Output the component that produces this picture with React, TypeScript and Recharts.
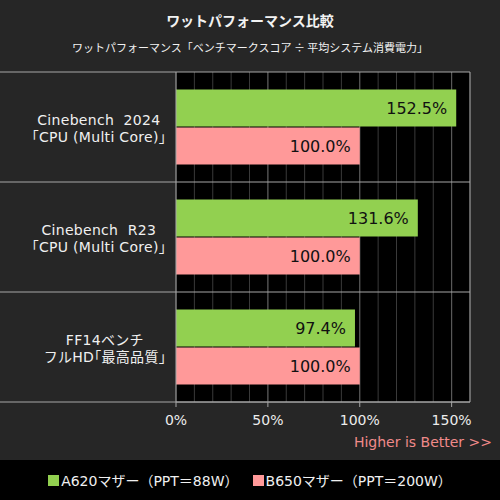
import { BarChart, Bar, XAxis, YAxis, CartesianGrid, ReferenceLine, LabelList } from 'recharts';

// 3 benchmarks, 2 lines of label each
const categoryTop = ['Cinebench\u00a0\u00a02024', 'Cinebench\u00a0\u00a0R23', 'FF14ベンチ'];
const categoryBottom = ['｢CPU (Multi Core)｣', '｢CPU (Multi Core)｣', 'フルHD｢最高品質｣'];
const a620Values = [152.5, 131.6, 97.4];
const b650Values = [100.0, 100.0, 100.0];
const xTicks = [0, 10, 20, 30, 40, 50, 60, 70, 80, 90, 100, 110, 120, 130, 140, 150];
const majorTicks = [0, 50, 100, 150];
const X_MAX = 160;

const seriesNames = ['A620マザー（PPT＝88W）', 'B650マザー（PPT＝200W）'];
const GREEN = '#92d050';
const PINK = '#ff9999';
const BORDER = '#a6a6a6';
const FONT = '"DejaVu Sans", "Noto Sans CJK JP", sans-serif';
const JP_FONT = '"Noto Sans CJK JP", sans-serif';

const data = categoryTop.map((c, i) => ({
  name: c,
  sub: categoryBottom[i],
  a620: a620Values[i],
  b650: b650Values[i],
}));

const PLOT_LEFT = 176;
const PLOT_RIGHT = 470;
const PLOT_TOP = 72;
const PLOT_BOTTOM = 402;
const BAND = (PLOT_BOTTOM - PLOT_TOP) / data.length;

function CategoryTick(props: any) {
  const { y, index, payload } = props;
  const row = data.find(d => d.name === payload.value) || data[index];
  return (
    <g>
      <line x1={0} x2={PLOT_RIGHT} y1={y - BAND / 2} y2={y - BAND / 2} stroke={BORDER} strokeWidth={1} />
      {index === data.length - 1 && (
        <line x1={0} x2={PLOT_RIGHT} y1={y + BAND / 2} y2={y + BAND / 2} stroke={BORDER} strokeWidth={1} />
      )}
      <foreignObject x={0} y={y - 15} width={166} height={40}>
        <div style={{ textAlign: 'right', fontFamily: FONT, fontSize: 14, lineHeight: '17px', color: '#f0f0f0', letterSpacing: '0.3px' }}>
          <div style={{ display: 'inline-block', textAlign: 'center', whiteSpace: 'nowrap' }}>
            {row.name}
            <br />
            {row.sub}
          </div>
        </div>
      </foreignObject>
    </g>
  );
}

function ValueTick(props: any) {
  const { x, y, payload } = props;
  if (!majorTicks.includes(payload.value)) return null;
  return (
    <g>
      <line x1={x} x2={x} y1={y} y2={y + 5} stroke={BORDER} />
      <text x={x} y={y + 23} textAnchor="middle" fill="#ececec" fontSize={14} fontFamily={FONT}>
        {payload.value}%
      </text>
    </g>
  );
}

// the 50% steps are a bit lighter than the 10% grid
const majorLines = ({ xAxis, offset }: any) =>
  [50, 100, 150].map(v =>
    typeof xAxis?.scale === 'function' ? xAxis.scale(v) : offset.left + (offset.width * v) / X_MAX
  );

const pct = (v: any) => Number(v).toFixed(1) + '%';

export default function App() {
  return (
    <div style={{ position: 'absolute', left: 0, top: 0, width: 500, height: 500, background: '#000', fontFamily: FONT }}>
      <div style={{ position: 'absolute', left: 0, top: 0, width: 500, height: 460, background: '#262626' }}>
        <BarChart
          width={500}
          height={460}
          data={data}
          layout="vertical"
          margin={{ top: PLOT_TOP, right: 500 - PLOT_RIGHT, bottom: 0, left: 0 }}
          barCategoryGap="16%"
          barGap={1}
        >
          <CartesianGrid horizontal={false} stroke="#3a3a3a" fill="#000" fillOpacity={1} />
          <CartesianGrid horizontal={false} stroke="#5e5e5e" verticalCoordinatesGenerator={majorLines} />
          <XAxis
            type="number"
            domain={[0, X_MAX]}
            ticks={xTicks}
            height={58}
            tickSize={0}
            tickMargin={0}
            tickLine={false}
            axisLine={{ stroke: BORDER }}
            tick={<ValueTick />}
            interval={0}
          />
          <YAxis
            type="category"
            dataKey="name"
            width={PLOT_LEFT}
            tickSize={0}
            tickMargin={0}
            tickLine={false}
            axisLine={{ stroke: BORDER }}
            tick={<CategoryTick />}
            interval={0}
          />
          <ReferenceLine x={X_MAX} stroke={BORDER} />
          <Bar dataKey="a620" fill={GREEN} isAnimationActive={false}>
            <LabelList
              dataKey="a620"
              position="insideRight"
              offset={9}
              fill="#111"
              fontSize={16}
              fontFamily={FONT}
              formatter={pct}
            />
          </Bar>
          <Bar dataKey="b650" fill={PINK} isAnimationActive={false}>
            <LabelList
              dataKey="b650"
              position="insideRight"
              offset={9}
              fill="#111"
              fontSize={16}
              fontFamily={FONT}
              formatter={pct}
            />
          </Bar>
        </BarChart>
        <div style={{ position: 'absolute', top: 10, width: 500, textAlign: 'center', color: '#f2f2f2', fontSize: 14, fontWeight: 'bold', lineHeight: '20px', fontFamily: JP_FONT }}>
          ワットパフォーマンス比較
        </div>
        <div style={{ position: 'absolute', top: 39, width: 500, textAlign: 'center', color: '#f2f2f2', fontSize: 11, lineHeight: '16px', fontFamily: JP_FONT }}>
          ワットパフォーマンス「ベンチマークスコア ÷ 平均システム消費電力」
        </div>
        <div style={{ position: 'absolute', top: 433, right: 8, color: '#f08a8a', fontSize: 14, lineHeight: '18px' }}>
          Higher is Better &gt;&gt;
        </div>
      </div>
      <div
        style={{
          position: 'absolute',
          left: 0,
          top: 460,
          width: 500,
          height: 40,
          display: 'flex',
          justifyContent: 'center',
          alignItems: 'center',
          gap: 14,
          color: '#f0f0f0',
          fontSize: 14,
        }}
      >
        {seriesNames.map((n, i) => (
          <div key={n} style={{ display: 'flex', alignItems: 'center' }}>
            <span style={{ display: 'inline-block', width: 11, height: 11, background: i === 0 ? GREEN : PINK, marginRight: 2 }} />
            {n}
          </div>
        ))}
      </div>
    </div>
  );
}
